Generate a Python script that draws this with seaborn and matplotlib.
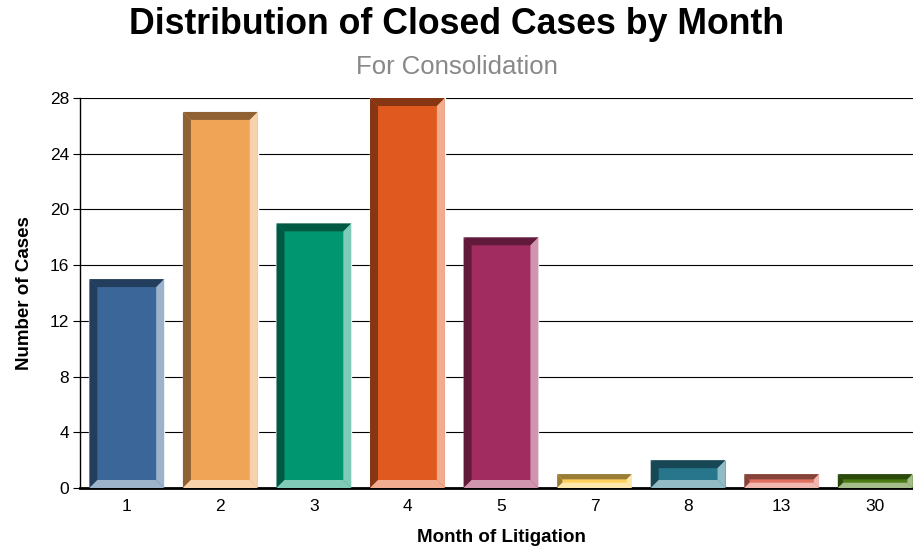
import seaborn as sns
import matplotlib.pyplot as plt
import matplotlib.colors as mcolors
from matplotlib.patches import Polygon
import numpy as np
import pandas as pd

# data
months = ['1', '2', '3', '4', '5', '7', '8', '13', '30']
cases = [15, 27, 19, 28, 18, 1, 2, 1, 1]
bar_colors = ['#3A6699', '#F0A455', '#009670', '#E05A20', '#A12C5F',
              '#FFD15C', '#27768C', '#E07060', '#4A7A14']
y_ticks = [0, 4, 8, 12, 16, 20, 24, 28]

sns.set_style('ticks')
plt.rcParams['font.family'] = ['Liberation Sans', 'DejaVu Sans']
plt.rcParams['text.color'] = 'black'
plt.rcParams['axes.labelcolor'] = 'black'
plt.rcParams['xtick.color'] = 'black'
plt.rcParams['ytick.color'] = 'black'

df = pd.DataFrame({'month': months, 'cases': cases})

fig = plt.figure(figsize=(9.13, 5.47), dpi=100)
ax = fig.add_axes([80 / 913, 1 - 488 / 547, 842 / 913, 390 / 547])
ax.set_axisbelow(True)
sns.barplot(data=df, x='month', y='cases', hue='month', palette=bar_colors,
            legend=False, width=0.8, saturation=1, ax=ax)

ax.set_ylim(0, 28)
ax.set_xlim(-0.5, len(months) - 0.5)
ax.set_yticks(y_ticks)
ax.yaxis.grid(True, color='black', linewidth=0.8)
ax.xaxis.grid(False)
ax.tick_params(axis='y', length=5, color='black', labelsize=12.5, pad=3)
ax.tick_params(axis='x', length=0, labelsize=12.5, pad=8)
for s in ['top', 'right']:
    ax.spines[s].set_visible(False)
ax.spines['left'].set_color('black')
ax.spines['left'].set_linewidth(1)
ax.spines['bottom'].set_color('black')
ax.spines['bottom'].set_linewidth(2)

ax.set_xlabel('Month of Litigation', fontsize=13.5, fontweight='bold', labelpad=11)
ax.set_ylabel('Number of Cases', fontsize=13.5, fontweight='bold', labelpad=12)

# bevel edges: darker top/left, lighter bottom/right
fig.canvas.draw()
to_px = ax.transData
to_data = ax.transData.inverted()
for patch, col in zip(ax.patches, bar_colors):
    x0, y0 = patch.get_x(), patch.get_y()
    x1, y1 = x0 + patch.get_width(), y0 + patch.get_height()
    (px0, py0), (px1, py1) = to_px.transform([(x0, y0), (x1, y1)])
    b = min(8, (py1 - py0) * 0.38)
    rgb = np.array(mcolors.to_rgb(col))
    dark = rgb * 0.6
    light = rgb + (1 - rgb) * 0.5
    shapes = [
        ([(px0, py0), (px0 + b, py0 + b), (px0 + b, py1 - b), (px0, py1)], dark),
        ([(px0, py1), (px0 + b, py1 - b), (px1 - b, py1 - b), (px1, py1)], dark),
        ([(px1, py1), (px1 - b, py1 - b), (px1 - b, py0 + b), (px1, py0)], light),
        ([(px0, py0), (px1, py0), (px1 - b, py0 + b), (px0 + b, py0 + b)], light),
    ]
    for pts, c in shapes:
        ax.add_patch(Polygon(to_data.transform(pts), closed=True,
                             facecolor=c, edgecolor='none', zorder=3))

fig.text(0.5, 1 - 25 / 547, 'Distribution of Closed Cases by Month',
         ha='center', va='center', fontsize=25.7, fontweight='bold', color='black')
fig.text(0.5, 1 - 67 / 547, 'For Consolidation', ha='center', va='center',
         fontsize=18.5, color='#888888')

fig.savefig('out.png', dpi=100)
